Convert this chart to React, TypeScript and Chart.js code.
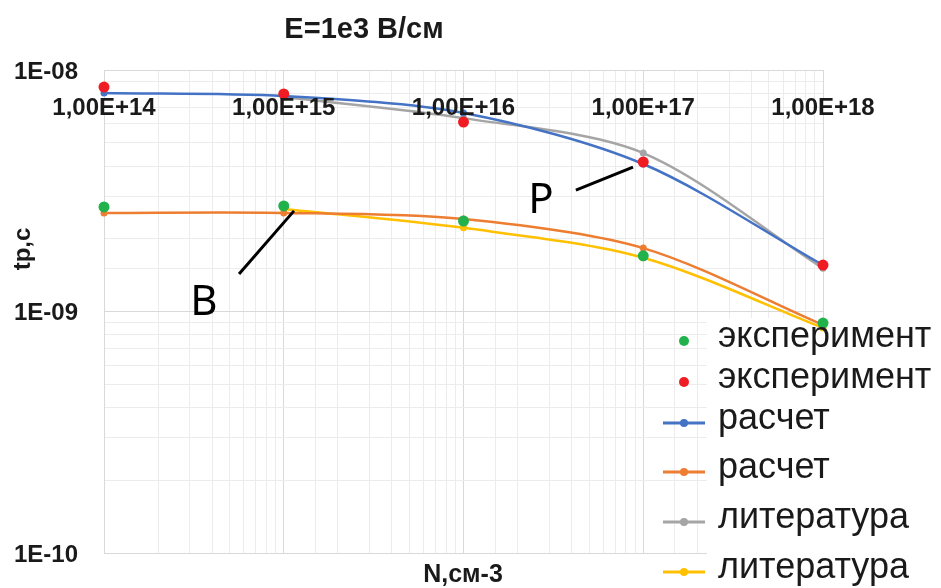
import { useEffect, useRef } from 'react';
import { Chart, registerables } from 'chart.js';

Chart.register(...registerables);

// ---- data ----
const nValues = [1e14, 1e15, 1e16, 1e17, 1e18];
const xTickValues = [1e14, 1e15, 1e16, 1e17, 1e18];
const xTickLabels = ['1,00E+14', '1,00E+15', '1,00E+16', '1,00E+17', '1,00E+18'];
const yTickValues = [1e-8, 1e-9, 1e-10];
const yTickLabels = ['1E-08', '1E-09', '1E-10'];

const expLower = [2.71e-9, 2.735e-9, 2.37e-9, 1.7e-9, 8.96e-10];
const expUpper = [8.5e-9, 7.96e-9, 6.09e-9, 4.16e-9, 1.557e-9];
const calcUpper = [8.03e-9, 7.8e-9, 6.64e-9, 4.08e-9, 1.557e-9];
const calcLower = [2.56e-9, 2.56e-9, 2.415e-9, 1.83e-9, 8.79e-10];
const litUpper = [null, 7.73e-9, 6.32e-9, 4.53e-9, 1.51e-9];
const litLower = [null, 2.66e-9, 2.22e-9, 1.67e-9, 8.55e-10];

const seriesLabels = ['эксперимент', 'эксперимент', 'расчет', 'расчет', 'литература', 'литература'];
const titleText = 'E=1e3 В/см';
const xTitle = 'N,см-3';
const yTitle = 'tp,с';

// annotations (anchored in data space)
const annotations = [
  { text: 'B', tx: 3.6e14, ty: 1.08e-9, x1: 5.64e14, y1: 1.43e-9, x2: 1.14e15, y2: 2.61e-9 },
  { text: 'P', tx: 2.7e16, ty: 2.87e-9, x1: 4.22e16, y1: 3.18e-9, x2: 8.77e16, y2: 3.96e-9 },
];

const COLORS = {
  green: '#21B24B',
  red: '#F01C24',
  blue: '#4472C4',
  orange: '#ED7D31',
  gray: '#A5A5A5',
  yellow: '#FFC000',
};

const isMajor = (v: number) => {
  const l = Math.log10(v);
  return Math.abs(l - Math.round(l)) < 1e-6;
};

const toPts = (arr: (number | null)[]) =>
  nValues
    .map((x, i) => ({ x, y: arr[i] }))
    .filter((p) => p.y !== null && p.y !== undefined) as { x: number; y: number }[];

const FONT = '"Liberation Sans", Arial, sans-serif';

const overlayPlugin = {
  id: 'overlay',
  beforeDatasetsDraw(chart: any) {
    const ctx = chart.ctx;
    ctx.save();
    ctx.fillStyle = '#ffffff';
    ctx.fillRect(707, 318, 941 - 707, 588 - 318);
    ctx.restore();
  },
  afterDraw(chart: any) {
    const ctx = chart.ctx as CanvasRenderingContext2D;
    const xs = chart.scales.x;
    const ys = chart.scales.y;
    const area = chart.chartArea;
    ctx.save();
    ctx.fillStyle = '#1a1a1a';

    // title
    ctx.font = `bold 29px ${FONT}`;
    ctx.textAlign = 'center';
    ctx.textBaseline = 'middle';
    ctx.fillText(titleText, 364, 30);

    // y tick labels
    ctx.font = `bold 24px ${FONT}`;
    ctx.textAlign = 'right';
    yTickValues.forEach((v, i) => {
      ctx.fillText(yTickLabels[i], area.left - 26, ys.getPixelForValue(v) + 2);
    });

    // x tick labels
    ctx.font = `bold 24px ${FONT}`;
    ctx.textAlign = 'center';
    xTickValues.forEach((v, i) => {
      ctx.fillText(xTickLabels[i], xs.getPixelForValue(v), area.top + 38);
    });

    // axis titles
    ctx.font = `bold 25px ${FONT}`;
    ctx.fillText(xTitle, 463, 575);
    ctx.save();
    ctx.translate(23, 249);
    ctx.rotate(-Math.PI / 2);
    ctx.font = `bold 24px ${FONT}`;
    ctx.fillText(yTitle, 0, 0);
    ctx.restore();

    // annotations
    ctx.strokeStyle = '#000000';
    ctx.lineWidth = 3;
    ctx.fillStyle = '#000000';
    ctx.font = '42px "Noto Sans"';
    annotations.forEach((a) => {
      ctx.beginPath();
      ctx.moveTo(xs.getPixelForValue(a.x1), ys.getPixelForValue(a.y1));
      ctx.lineTo(xs.getPixelForValue(a.x2), ys.getPixelForValue(a.y2));
      ctx.stroke();
      ctx.fillText(a.text, xs.getPixelForValue(a.tx), ys.getPixelForValue(a.ty));
    });

    // legend
    const rowsY = [341, 382, 423, 472, 522, 572];
    const ds = chart.data.datasets;
    ctx.font = `36px ${FONT}`;
    ctx.textAlign = 'left';
    ctx.textBaseline = 'middle';
    ds.forEach((d: any, i: number) => {
      const y = rowsY[i];
      const c = d.borderColor;
      if (d.showLine !== false) {
        ctx.strokeStyle = c;
        ctx.lineWidth = 3;
        ctx.beginPath();
        ctx.moveTo(663, y);
        ctx.lineTo(705, y);
        ctx.stroke();
        ctx.fillStyle = c;
        ctx.beginPath();
        ctx.arc(684, y, 4, 0, Math.PI * 2);
        ctx.fill();
      } else {
        ctx.fillStyle = c;
        ctx.beginPath();
        ctx.arc(684, y, 5, 0, Math.PI * 2);
        ctx.fill();
      }
      ctx.fillStyle = '#1a1a1a';
      ctx.fillText(d.label, 718, y - 4);
    });
    ctx.restore();
  },
};

export default function App() {
  const ref = useRef<HTMLCanvasElement>(null);
  useEffect(() => {
    if (!ref.current) return;
    const scatter = (label: string, arr: (number | null)[], color: string) => ({
      label,
      data: toPts(arr),
      showLine: false,
      clip: false,
      borderColor: color,
      backgroundColor: color,
      pointBackgroundColor: color,
      pointBorderColor: color,
      pointRadius: 5.5,
      pointBorderWidth: 0,
    });
    const line = (label: string, arr: (number | null)[], color: string) => ({
      label,
      data: toPts(arr),
      showLine: true,
      clip: false,
      borderColor: color,
      backgroundColor: color,
      pointBackgroundColor: color,
      pointBorderColor: color,
      pointRadius: 3.5,
      pointBorderWidth: 0,
      borderWidth: 2.5,
      tension: 0.3,
      fill: false,
    });
    const gridColor = (ctx: any) => {
      const v = ctx.tick ? ctx.tick.value : 1;
      return isMajor(v) ? '#D9D9D9' : '#ECECEC';
    };
    const chart = new Chart(ref.current, {
      type: 'line',
      data: {
        datasets: [
          scatter(seriesLabels[0], expLower, COLORS.green),
          scatter(seriesLabels[1], expUpper, COLORS.red),
          line(seriesLabels[2], calcUpper, COLORS.blue),
          line(seriesLabels[3], calcLower, COLORS.orange),
          line(seriesLabels[4], litUpper, COLORS.gray),
          line(seriesLabels[5], litLower, COLORS.yellow),
        ] as any,
      },
      options: {
        responsive: false,
        animation: false,
        layout: { padding: { left: 104, right: 118, top: 70, bottom: 35 } },
        plugins: {
          legend: { display: false },
          title: { display: false },
          tooltip: { enabled: false },
        },
        scales: {
          x: {
            type: 'logarithmic',
            min: 1e14,
            max: 1e18,
            ticks: { display: false },
            grid: { drawTicks: false, color: gridColor, lineWidth: 1 },
            border: { color: '#D9D9D9' },
          },
          y: {
            type: 'logarithmic',
            min: 1e-10,
            max: 1e-8,
            ticks: { display: false },
            grid: { drawTicks: false, color: gridColor, lineWidth: 1 },
            border: { color: '#D9D9D9' },
          },
        },
      } as any,
      plugins: [overlayPlugin],
    });
    return () => chart.destroy();
  }, []);
  return (
    <div style={{ position: 'absolute', left: 0, top: 0, width: 941, height: 588, background: '#fff' }}>
      <canvas ref={ref} width={941} height={588} style={{ display: 'block' }} />
    </div>
  );
}
